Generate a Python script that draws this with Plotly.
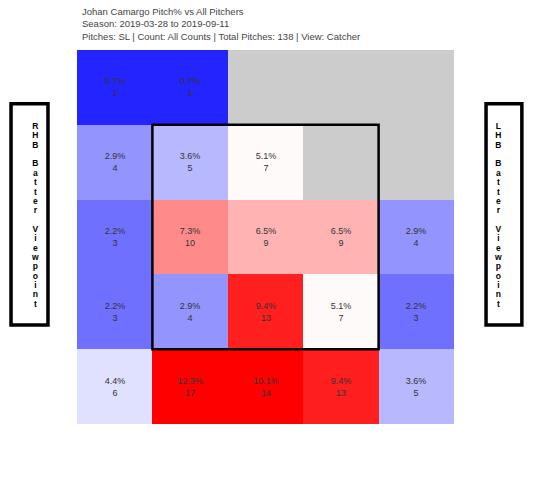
import numpy as np
import plotly.graph_objects as go

# 5x5 zone grid, catcher view, top row first (None = no pitches)
pct = [
    [0.7, 0.7, None, None, None],
    [2.9, 3.6, 5.1, None, None],
    [2.2, 7.3, 6.5, 6.5, 2.9],
    [2.2, 2.9, 9.4, 5.1, 2.2],
    [4.4, 12.3, 10.1, 9.4, 3.6],
]
counts = [
    [1, 1, None, None, None],
    [4, 5, 7, None, None],
    [3, 10, 9, 9, 4],
    [3, 4, 13, 7, 3],
    [6, 17, 14, 13, 5],
]
cols = [0, 1, 2, 3, 4]
rows = [0, 1, 2, 3, 4]

title_lines = [
    "Johan Camargo Pitch% vs All Pitchers",
    "Season: 2019-03-28 to 2019-09-11",
    "Pitches: SL | Count: All Counts | Total Pitches: 138 | View: Catcher",
]

z = np.array([[np.nan if v is None else v for v in r] for r in pct])
text = [["" if p is None else f"{p}%<br>{c}" for p, c in zip(rp, rc)]
        for rp, rc in zip(pct, counts)]

fig = go.Figure(go.Heatmap(
    z=z,
    x=cols,
    y=rows,
    text=text,
    texttemplate="%{text}",
    textfont=dict(size=9, color="#333", family="Arial"),
    colorscale=[[0, "#0000ff"], [0.5, "#ffffff"], [1, "#ff0000"]],
    zmin=0, zmax=10,
    showscale=False,
    hoverongaps=False,
))

# strike zone
fig.add_shape(type="rect", x0=0.5, x1=3.5, y0=0.5, y1=3.5,
              line=dict(color="black", width=2.5))


def side_label(word, x0, x1):
    # one letter per line; bigger glyphs than the base size keeps lines tight
    letters = "<br>".join(
        f"<span style='font-size:8.5px'>{ch}</span>" if ch != " " else ""
        for ch in word)
    fig.add_shape(type="rect", xref="paper", yref="paper",
                  x0=x0, x1=x1, y0=0.265, y1=0.856,
                  line=dict(color="black", width=3.5), fillcolor="white")
    fig.add_annotation(xref="paper", yref="paper", x=(x0 + x1) / 2, y=0.558,
                       text=f"<b>{letters}</b>", showarrow=False,
                       font=dict(size=7.2, color="black", family="Arial"),
                       align="center")


side_label("RHB Batter Viewpoint", -0.175, -0.077)
side_label("LHB Batter Viewpoint", 1.085, 1.18)

fig.add_annotation(xref="paper", yref="paper", x=0.008, y=1, xanchor="left",
                   yanchor="bottom", yshift=6, showarrow=False, align="left",
                   text="<br>".join(title_lines),
                   font=dict(size=9.5, color="#444", family="Arial"))

fig.update_layout(
    width=543, height=498, autosize=False,
    margin=dict(l=77, r=89, t=50, b=74),
    plot_bgcolor="#cccccc",
    paper_bgcolor="white",
    xaxis=dict(range=[-0.5, 4.5], visible=False, fixedrange=True),
    yaxis=dict(range=[4.5, -0.5], visible=False, fixedrange=True),
)

fig.write_html("out.html", config={"displayModeBar": False},
               post_script="document.body.style.margin='0px';")
